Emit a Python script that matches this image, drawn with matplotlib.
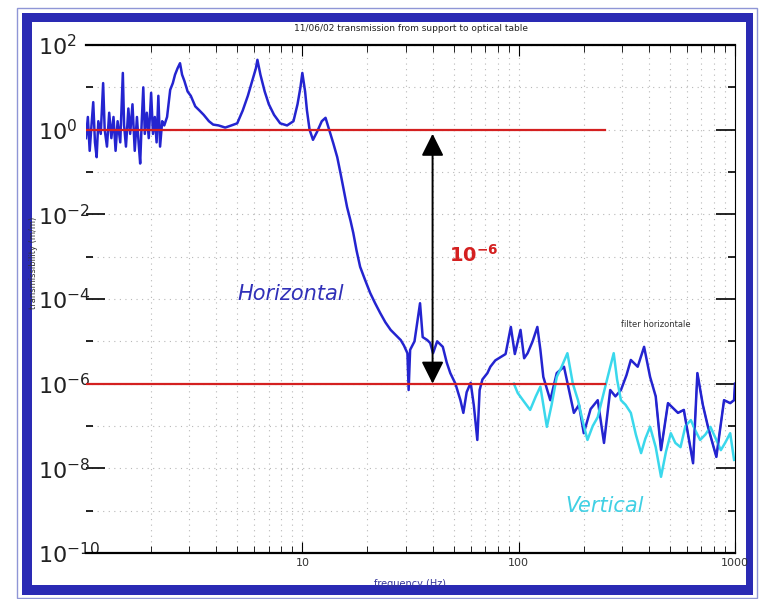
import matplotlib
matplotlib.use("Agg")
import matplotlib.pyplot as plt
import matplotlib.patches as mpatches
import numpy as np

# ---- data ----
horiz_freq = [1.00, 1.02, 1.04, 1.06, 1.08, 1.10, 1.12, 1.14, 1.17, 1.20, 1.22, 1.25, 1.28, 1.31, 1.34,
              1.37, 1.40, 1.44, 1.48, 1.50, 1.53, 1.57, 1.60, 1.64, 1.68, 1.72, 1.75, 1.78, 1.81, 1.84,
              1.87, 1.91, 1.95, 2.00, 2.04, 2.08, 2.12, 2.16, 2.20, 2.25, 2.30, 2.37, 2.45, 2.52, 2.58,
              2.65, 2.72, 2.78, 2.85, 2.95, 3.05, 3.2, 3.35, 3.5, 3.7, 3.87, 4.1, 4.4, 4.7, 5.0, 5.3,
              5.6, 5.9, 6.1, 6.2, 6.4, 6.7, 7.0, 7.4, 7.9, 8.5, 9.1, 9.5, 9.8, 10.0, 10.3, 10.5, 10.8,
              11.2, 11.7, 12.3, 12.8, 13.3, 13.9, 14.5, 15.0, 15.5, 16.1, 16.7, 17.2, 17.8, 18.5, 19.5,
              20.6, 21.7, 22.9, 24.2, 25.6, 27.0, 28.5, 29.5, 30.6, 31.0, 31.5, 33.0, 35.0, 36.0, 37.8,
              39.0, 40.2, 42.0, 44.6, 46.5, 48.3, 51.0, 53.8, 55.5, 57.5, 60.0, 62.0, 64.4, 66.0, 68.0,
              71.7, 74.0, 78.0, 82.6, 87.0, 92.0, 96.0, 102, 106, 110, 116, 122, 126, 130, 140, 150,
              162, 170, 180, 190, 200, 215, 232, 248, 265, 280, 297, 315, 330, 355, 380, 405, 430, 455,
              490, 545, 580, 640, 670, 710, 750, 820, 890, 950, 990, 1000]
horiz_log = [-0.2, 0.3, -0.5, 0.1, 0.65, -0.3, -0.65, 0.2, -0.1, 1.1, 0.0, -0.4, 0.4, -0.2, 0.3,
             -0.5, 0.2, -0.3, 1.34, 0.1, -0.4, 0.5, -0.1, 0.6, -0.5, 0.3, -0.3, -0.8, 0.2, 1.0,
             -0.1, 0.4, -0.2, 0.87, -0.1, 0.3, -0.3, 0.8, -0.4, 0.2, 0.1, 0.3, 0.94, 1.1, 1.3,
             1.45, 1.57, 1.3, 1.15, 0.9, 0.8, 0.55, 0.45, 0.35, 0.2, 0.12, 0.1, 0.05, 0.1, 0.15, 0.45,
             0.8, 1.2, 1.45, 1.65, 1.3, 0.9, 0.6, 0.35, 0.15, 0.1, 0.2, 0.6, 1.0, 1.34, 0.9, 0.46, 0.0,
             -0.24, -0.05, 0.2, 0.28, 0.0, -0.32, -0.65, -1.02, -1.4, -1.83, -2.15, -2.44, -2.85, -3.24, -3.55,
             -3.86, -4.1, -4.33, -4.55, -4.73, -4.85, -4.97, -5.1, -5.28, -6.15, -5.2, -5.0, -4.1, -4.9, -4.97,
             -5.04, -5.28, -5.0, -5.13, -5.5, -5.75, -6.0, -6.39, -6.69, -6.2, -5.98, -6.5, -7.33, -6.15, -5.9,
             -5.75, -5.6, -5.45, -5.37, -5.3, -4.66, -5.3, -4.73, -5.4, -5.28, -5.0, -4.66, -5.2, -5.84, -6.39, -5.75,
             -5.6, -6.1, -6.69, -6.5, -7.17, -6.6, -6.39, -7.4, -6.15, -6.3, -6.15, -5.8, -5.44, -5.6, -5.13, -5.84, -6.3, -7.57,
             -6.46, -6.69, -6.62, -7.88, -5.75, -6.5, -7.02, -7.73, -6.39, -6.46, -6.39, -6.0]

vert_freq = [95, 99, 105, 113, 120, 126, 135, 142, 150, 158, 168, 178, 188, 198, 208, 220, 232, 245,
             258, 275, 285, 297, 312, 330, 348, 368, 385, 405, 430, 455, 480, 505, 530, 560, 590, 625,
             655, 690, 730, 770, 815, 860, 900, 950, 990]
vert_log = [-6.0, -6.22, -6.4, -6.62, -6.3, -6.07, -7.02, -6.5, -5.84, -5.6, -5.28, -6.0, -6.39, -6.9, -7.33,
            -7.0, -6.79, -6.3, -5.84, -5.28, -5.9, -6.39, -6.5, -6.69, -7.2, -7.64, -7.3, -7.02, -7.5, -8.2,
            -7.6, -7.17, -7.4, -7.5, -7.0, -6.86, -7.1, -7.33, -7.2, -7.02, -7.3, -7.57, -7.4, -7.17, -7.8]

ref_levels = [1.0, 1e-6]
ref_fmax = 250
arrow_freq = 40

y_ticks = [1e2, 1e0, 1e-2, 1e-4, 1e-6, 1e-8, 1e-10]
y_ticklabels = [r"$\mathregular{10^{2}}$", r"$\mathregular{10^{0}}$", r"$\mathregular{10^{-2}}$",
                r"$\mathregular{10^{-4}}$", r"$\mathregular{10^{-6}}$", r"$\mathregular{10^{-8}}$",
                r"$\mathregular{10^{-10}}$"]
x_ticks = [10, 100, 1000]
x_ticklabels = ["10", "100", "1000"]

# ---- figure ----
fig = plt.figure(figsize=(7.59, 5.99), dpi=100)
W, H = 759, 599

def frect(x0, y0, x1, y1, **kw):
    fig.patches.append(mpatches.Rectangle((x0 / W, 1 - y1 / H), (x1 - x0) / W, (y1 - y0) / H,
                                          transform=fig.transFigure, zorder=-5, **kw))

frect(17, 8, 757, 598, facecolor="none", edgecolor="#8f96d6", lw=1)
frect(22, 13, 753, 595, facecolor="#2a2ab4", edgecolor="none")
frect(32, 22, 746, 585, facecolor="white", edgecolor="none")

ax = fig.add_axes([86 / W, 1 - 553 / H, (735 - 86) / W, (553 - 45) / H])
ax.set_zorder(5)
ax.set_xscale("log")
ax.set_yscale("log")
ax.set_xlim(1, 1000)
ax.set_ylim(1e-10, 1e2)
ax.set_facecolor("none")

ax.grid(True, which="both", color="#b8b8b8", ls=(0, (1, 4)), lw=0.8)

ax.plot(horiz_freq, 10 ** np.array(horiz_log), color="#2424d0", lw=1.8)
ax.plot(vert_freq, 10 ** np.array(vert_log), color="#3ad8ec", lw=1.8)
ax.plot(horiz_freq[-14:], 10 ** np.array(horiz_log[-14:]), color="#2424d0", lw=1.2, alpha=0.8)

for lv in ref_levels:
    ax.plot([1, ref_fmax], [lv, lv], color="#d42020", lw=1.6)

ax.annotate("", xy=(arrow_freq, 1.0e-6), xytext=(arrow_freq, 0.8),
            arrowprops=dict(arrowstyle="<|-|>", color="black", lw=1.4,
                            mutation_scale=34, shrinkA=0, shrinkB=0))

ax.text(62, 1.1e-3, r"$\mathbf{10^{-6}}$", color="#d42020", fontsize=14, ha="center", va="center")
ax.text(8.8, 1.3e-4, "Horizontal", color="#3030b8", fontsize=15, style="italic",
        ha="center", va="center")
ax.text(250, 1.3e-9, "Vertical", color="#40d0e4", fontsize=15, style="italic",
        ha="center", va="center")
ax.text(430, 2.5e-5, "filter horizontale", color="#333333", fontsize=6, ha="center", va="center")

ax.set_yticks(y_ticks)
ax.set_yticklabels(y_ticklabels)
ax.set_yticks([1e1, 1e-1, 1e-3, 1e-5, 1e-7, 1e-9], minor=True)
ax.yaxis.set_minor_formatter(matplotlib.ticker.NullFormatter())
ax.tick_params(axis="y", which="major", direction="in", length=14, width=1.2, labelsize=16,
               labelcolor="#222222", pad=48 * 72 / 100, right=True)
for lab in ax.get_yticklabels():
    lab.set_horizontalalignment("left")
ax.tick_params(axis="y", which="minor", direction="in", length=5, width=1.2, right=True)

ax.set_xticks(x_ticks)
ax.set_xticklabels(x_ticklabels)
ax.tick_params(axis="x", which="major", direction="in", length=8, labelsize=8, top=True,
               labelcolor="#333333")
ax.tick_params(axis="x", which="minor", direction="in", length=5, top=True)

ax.spines["left"].set_visible(False)
ax.spines["top"].set_linewidth(1.6)
ax.spines["bottom"].set_linewidth(1.6)
ax.spines["right"].set_linewidth(0.8)

ax.set_xlabel("frequency (Hz)", fontsize=7, color="#333399", labelpad=8)
ax.set_ylabel("transmissibility (m/m)", fontsize=6, color="#333333")
ax.yaxis.set_label_coords((38 - 86) / 649, 0.571)
ax.set_title("11/06/02 transmission from support to optical table", fontsize=6.5,
             color="#222222", pad=10)

fig.savefig("out.png", dpi=100)
